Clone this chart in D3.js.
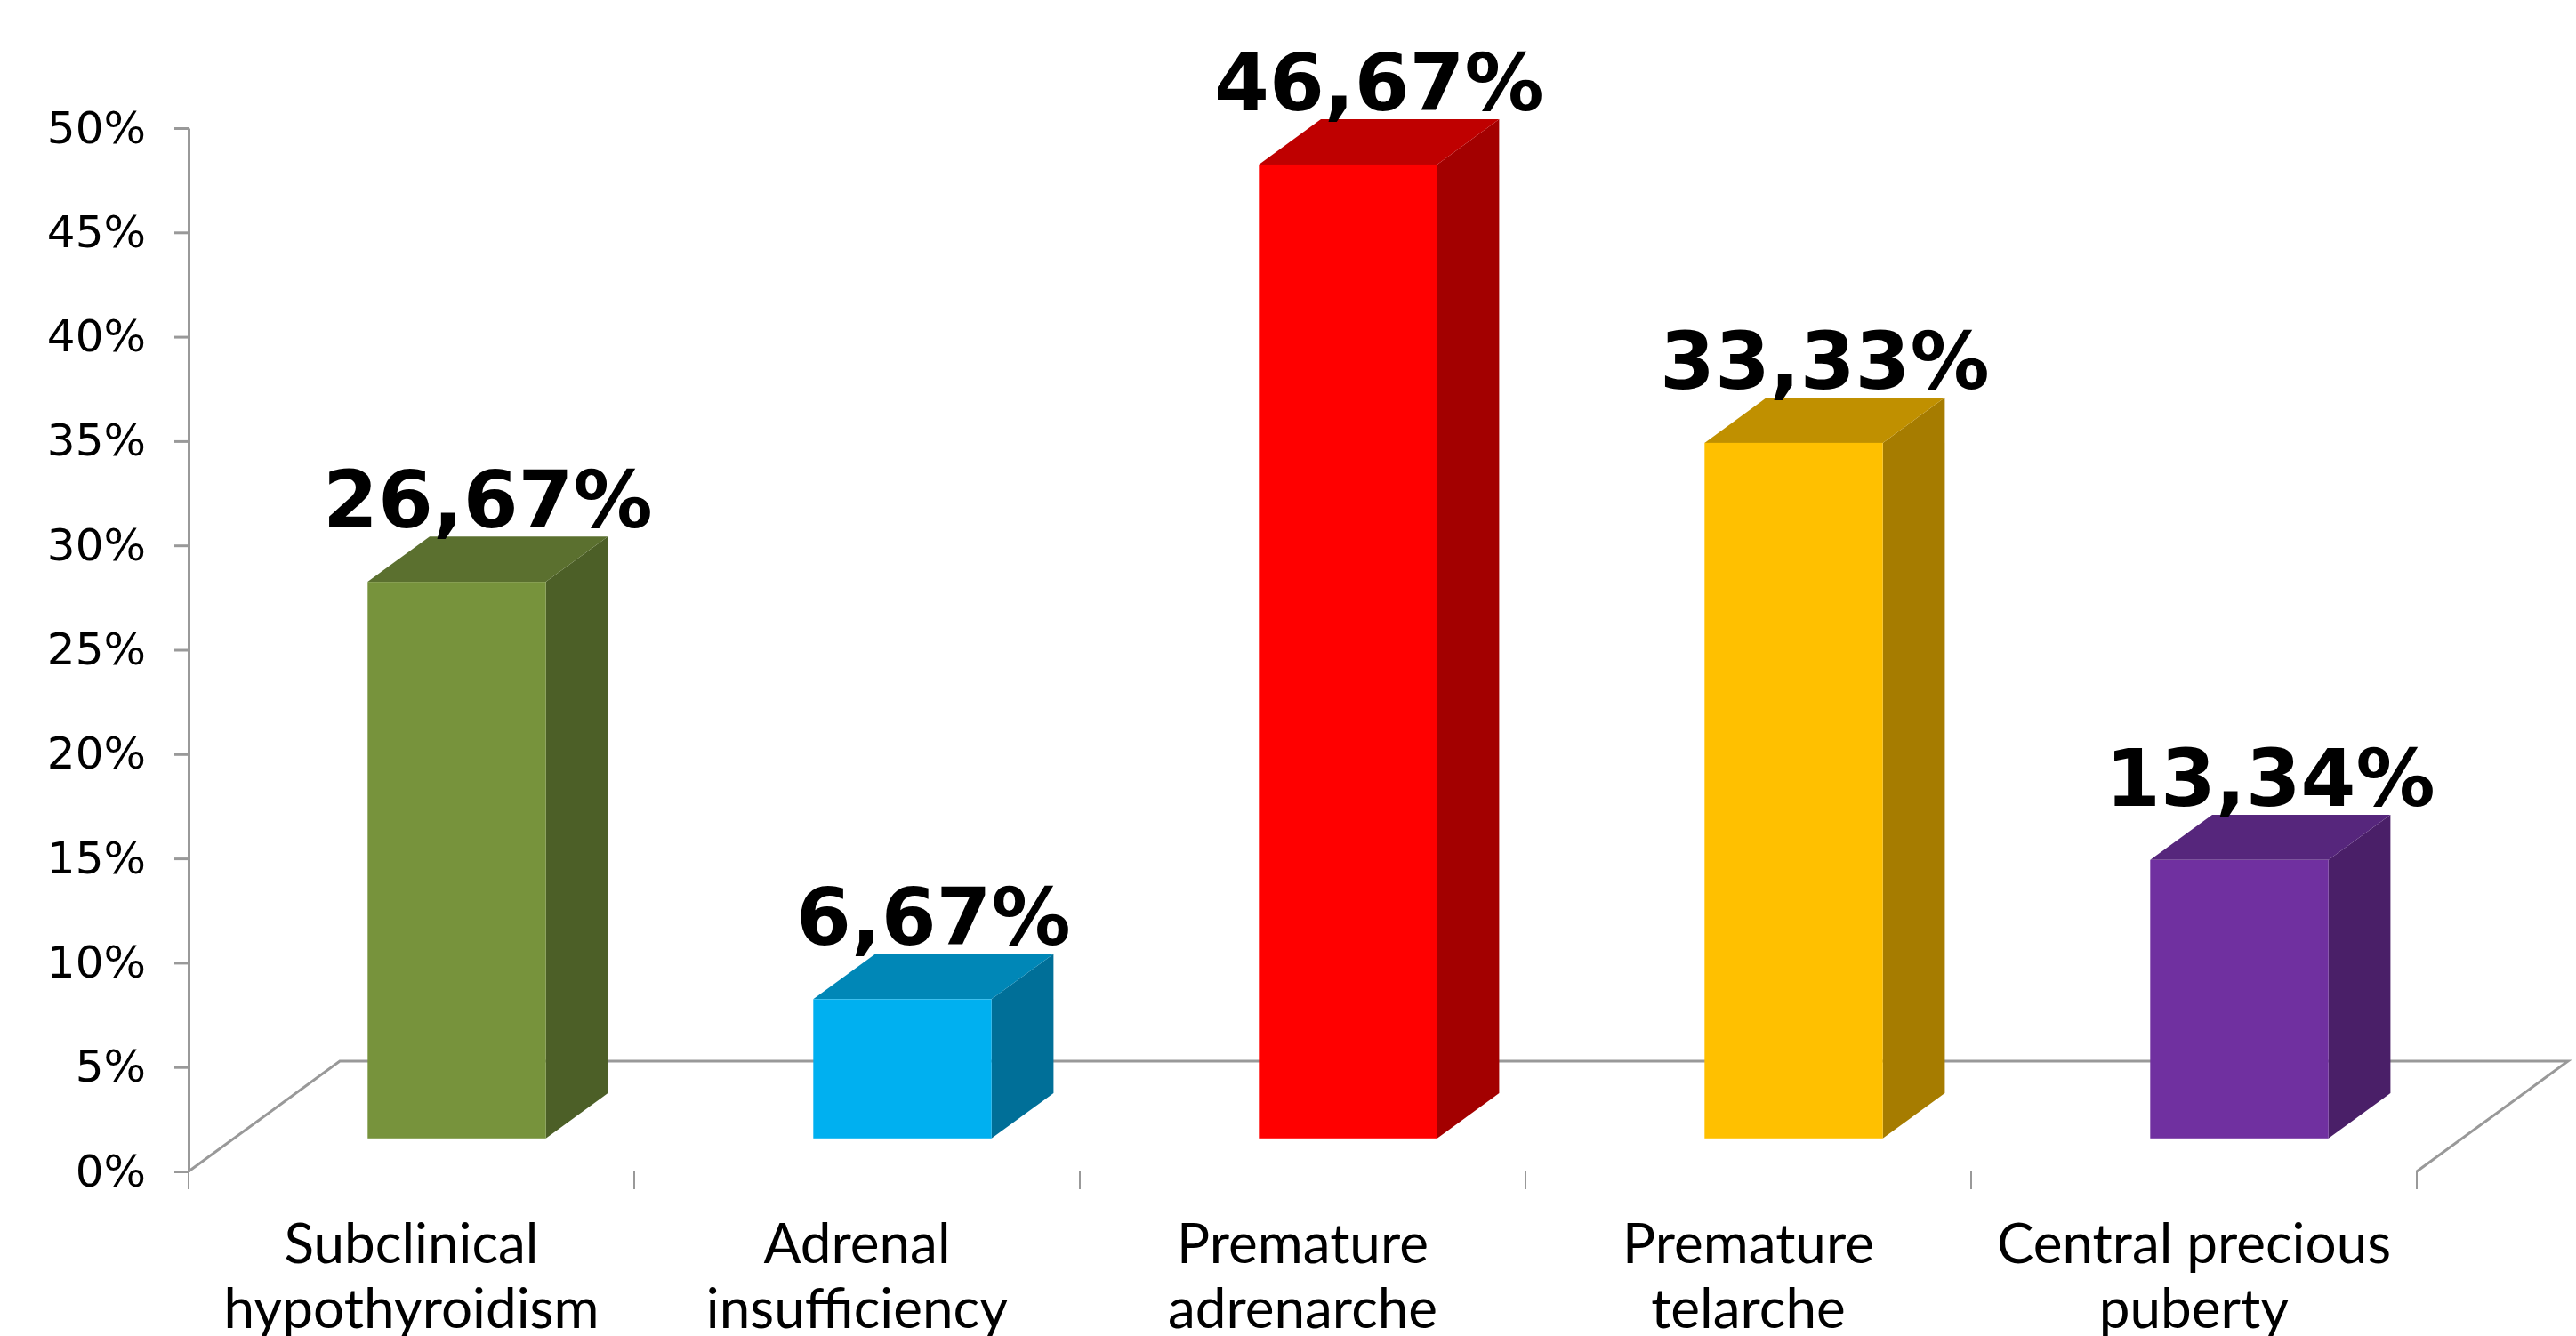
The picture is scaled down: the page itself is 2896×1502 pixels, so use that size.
<!DOCTYPE html>
<html>
<head>
<meta charset="utf-8">
<script src="https://cdn.jsdelivr.net/npm/d3@7"></script>
<style>
  html, body { margin: 0; padding: 0; background: #fff; }
  svg { display: block; }
  .y-axis text { font-family: 'DejaVu Sans', Verdana, sans-serif; font-size: 50px; fill: #000; }
  .y-axis line, .y-axis path { stroke: #999; stroke-width: 3; }
  .cat-label { font-family: Lato, 'Open Sans', sans-serif; font-size: 62px; fill: #000; }
  .value-label { font-family: 'DejaVu Sans', Verdana, sans-serif; font-weight: bold; font-size: 89px; fill: #000; }
</style>
</head>
<body>
<div id="chart"></div>
<script>
const categoryLines = [
  ['Subclinical', 'hypothyroidism'],
  ['Adrenal', 'insufficiency'],
  ['Premature', 'adrenarche'],
  ['Premature', 'telarche'],
  ['Central precious', 'puberty']
]
const categories = categoryLines.map(l => l.join(' '))
const values = [26.67, 6.67, 46.67, 33.33, 13.34]
const frontColors = ['#77933C', '#00B0F0', '#FF0000', '#FFC000', '#7030A0']
const topColors = ['#5B702F', '#0087B7', '#BF0000', '#C09000', '#56267C']
const sideColors = ['#4C5F27', '#006F98', '#A30000', '#A67C00', '#4A1F68']
const yTicks = [0, 5, 10, 15, 20, 25, 30, 35, 40, 45, 50]

const width = 2896
const height = 1502

// floor depth vector and where the bars sit in it
const depthX = 170
const depthY = -124
const f0 = 0.3
const f1 = 0.71

const svg = d3.select('#chart').append('svg')
  .attr('width', width)
  .attr('height', height)

const y = d3.scaleLinear().domain([0, 50]).range([1317, 144])
const x = d3.scaleBand().domain(categories).range([212, 2717])
  .paddingInner(0.6).paddingOuter(0.3)
const edge = d3.scaleLinear().domain([0, categories.length]).range([212, 2717])

const gray = '#999'

// floor
const y0 = y(0)
const floorPts = [
  [edge(0), y0], [edge(0) + depthX, y0 + depthY],
  [edge(5) + depthX, y0 + depthY], [edge(5), y0]
]
svg.append('path')
  .attr('d', d3.line()(floorPts))
  .attr('fill', '#fff')
  .attr('stroke', gray)
  .attr('stroke-width', 3)

// category tick marks on the boundaries
svg.append('g').selectAll('line')
  .data(d3.range(categories.length + 1))
  .join('line')
  .attr('x1', d => edge(d)).attr('x2', d => edge(d))
  .attr('y1', y0).attr('y2', y0 + 20)
  .attr('stroke', gray)
  .attr('stroke-width', 2)

// y axis
svg.append('g')
  .attr('class', 'y-axis')
  .attr('transform', `translate(${edge(0)},0)`)
  .call(d3.axisLeft(y).tickValues(yTicks).tickFormat(d => d + '%')
    .tickSize(16).tickSizeOuter(0).tickPadding(32))

// bars
const ox = depthX * f0
const oy = depthY * f0
const bx = depthX * (f1 - f0)
const by = depthY * (f1 - f0)
const bw = x.bandwidth()

const bars = svg.append('g').selectAll('g')
  .data(categories.map((c, i) => ({ c, v: values[i], i })))
  .join('g')

const geo = d => {
  const x0 = x(d.c) + ox
  const x1 = x0 + bw
  const top = y(d.v) + oy
  const bot = y(0) + oy
  return { x0, x1, top, bot }
}

bars.append('path')
  .attr('d', d => {
    const g = geo(d)
    return d3.line()([[g.x1, g.top], [g.x1 + bx, g.top + by], [g.x1 + bx, g.bot + by], [g.x1, g.bot]]) + 'Z'
  })
  .attr('fill', d => sideColors[d.i])

bars.append('path')
  .attr('d', d => {
    const g = geo(d)
    return d3.line()([[g.x0, g.top], [g.x1, g.top], [g.x1 + bx, g.top + by], [g.x0 + bx, g.top + by]]) + 'Z'
  })
  .attr('fill', d => topColors[d.i])

bars.append('rect')
  .attr('x', d => geo(d).x0)
  .attr('y', d => geo(d).top)
  .attr('width', bw)
  .attr('height', d => geo(d).bot - geo(d).top)
  .attr('fill', d => frontColors[d.i])

// value labels
const fmt = d3.format('.2f')
svg.append('g').selectAll('text')
  .data(categories.map((c, i) => ({ c, v: values[i], i })))
  .join('text')
  .attr('class', 'value-label')
  .attr('text-anchor', 'middle')
  .attr('x', d => geo(d).x0 + bw / 2 + bx / 2)
  .attr('y', d => geo(d).top + by - 10)
  .text(d => fmt(d.v).replace('.', ',') + '%')

// category labels
const catText = svg.append('g').selectAll('text')
  .data(categoryLines)
  .join('text')
  .attr('class', 'cat-label')
  .attr('text-anchor', 'middle')
  .attr('x', (d, i) => x(categories[i]) + bw / 2)
  .attr('y', 1420)

catText.selectAll('tspan')
  .data(d => d)
  .join('tspan')
  .attr('x', function () { return d3.select(this.parentNode).attr('x') })
  .attr('dy', (d, j) => j === 0 ? 0 : 73)
  .text(d => d)
</script>
</body>
</html>
